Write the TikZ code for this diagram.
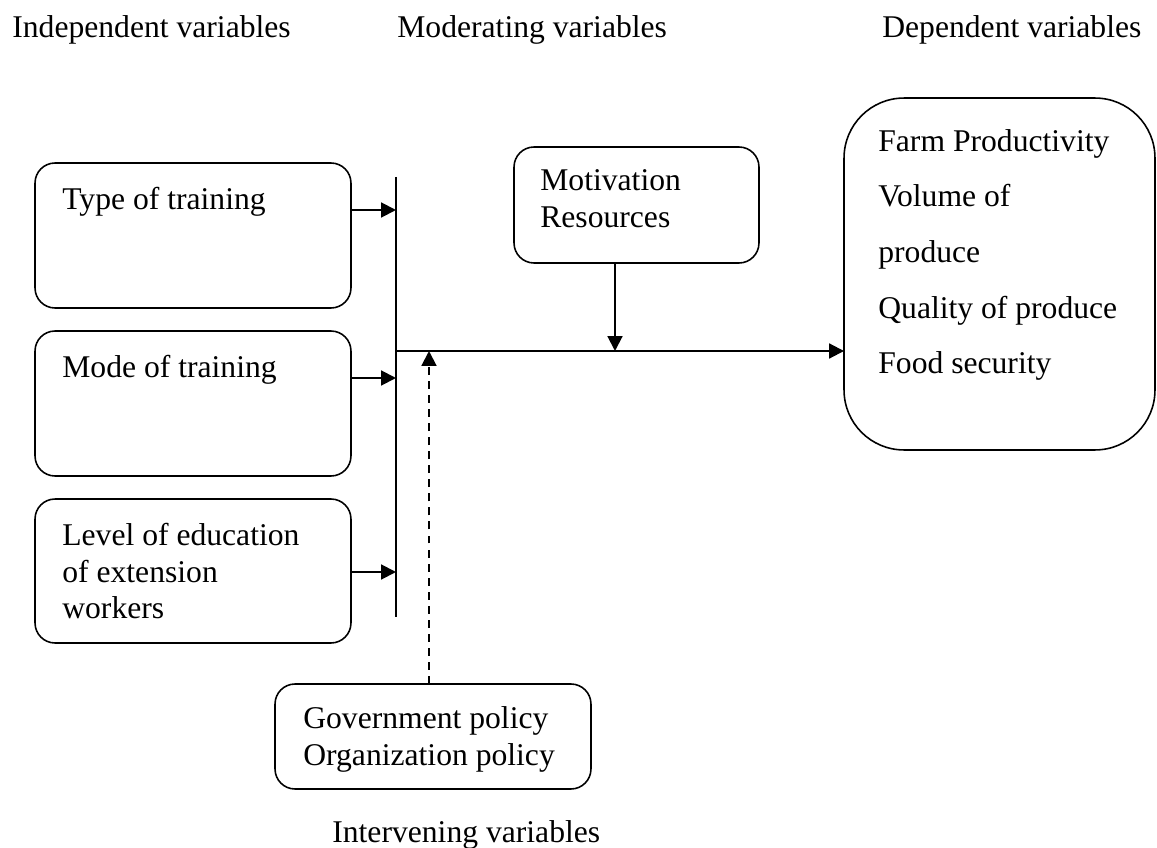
\documentclass[tikz,border=0pt]{standalone}
\usepackage{fontspec}
\setmainfont{Liberation Serif}
\usetikzlibrary{arrows.meta}
\begin{document}
\begin{tikzpicture}[x=0.02cm,y=-0.02cm,
 box/.style={draw,line width=0.9pt,rounded corners=0.4cm,inner sep=0pt,outer sep=0pt},
 txt/.style={anchor=base west,inner sep=0pt,font=\fontsize{18}{21}\selectfont},
 ln/.style={line width=1.15pt},
 arr/.style={ln,-{Triangle[length=8.5pt,width=8.5pt]}}]
\useasboundingbox (0,0) rectangle (1157,848);
% boxes
\node[box,minimum width=6.32cm,minimum height=2.9cm] (b1) at (193,235.5) {};
\node[box,minimum width=6.32cm,minimum height=2.9cm] (b2) at (193,403.5) {};
\node[box,minimum width=6.32cm,minimum height=2.88cm] (b3) at (193,571) {};
\node[box,minimum width=4.9cm,minimum height=2.32cm] (mot) at (636.5,205) {};
\node[box,rounded corners=1.2cm,minimum width=6.22cm,minimum height=7.04cm] (dep) at (999.5,274) {};
\node[box,minimum width=6.32cm,minimum height=2.1cm] (gov) at (433,736.5) {};
% headings
\node[txt] (h1) at (12,38) {Independent variables};
\node[txt] (h2) at (397,38) {Moderating variables};
\node[txt] (h3) at (882,38) {Dependent variables};
\node[txt] (h4) at (332,842) {Intervening variables};
% box texts
\node[txt] (t1) at (62,210) {Type of training};
\node[txt] (t2) at (62,377) {Mode of training};
\node[txt] (t3a) at (62,545) {Level of education};
\node[txt] (t3b) at (62,582) {of extension};
\node[txt] (t3c) at (62,618) {workers};
\node[txt] (m1) at (540,191) {Motivation};
\node[txt] (m2) at (540,228) {Resources};
\node[txt] (d1) at (878,152) {Farm Productivity};
\node[txt] (d2) at (878,207) {Volume of};
\node[txt] (d3) at (878,262) {produce};
\node[txt] (d4) at (878,318) {Quality of produce};
\node[txt] (d5) at (878,373) {Food security};
\node[txt] (g1) at (303,728) {Government policy};
\node[txt] (g2) at (303,765) {Organization policy};
% connectors
\coordinate (vt) at (396,177);
\coordinate (vb) at (396,617);
\coordinate (j) at (396,351);
\coordinate (y1) at (0,210);
\coordinate (y2) at (0,378);
\coordinate (y3) at (0,572);
\coordinate (mx) at (615,0);
\coordinate (dx) at (429,0);
\draw[ln] (vt) -- (vb);
\draw[arr] (b1.east |- y1) -- (vt |- y1);
\draw[arr] (b2.east |- y2) -- (vt |- y2);
\draw[arr] (b3.east |- y3) -- (vt |- y3);
\draw[arr] (j) -- (dep.west |- j);
\draw[arr] (mot.south -| mx) -- (mx |- j);
\draw[arr,dash pattern=on 4.5pt off 3.5pt] (gov.north -| dx) -- (dx |- j);
\end{tikzpicture}
\end{document}
